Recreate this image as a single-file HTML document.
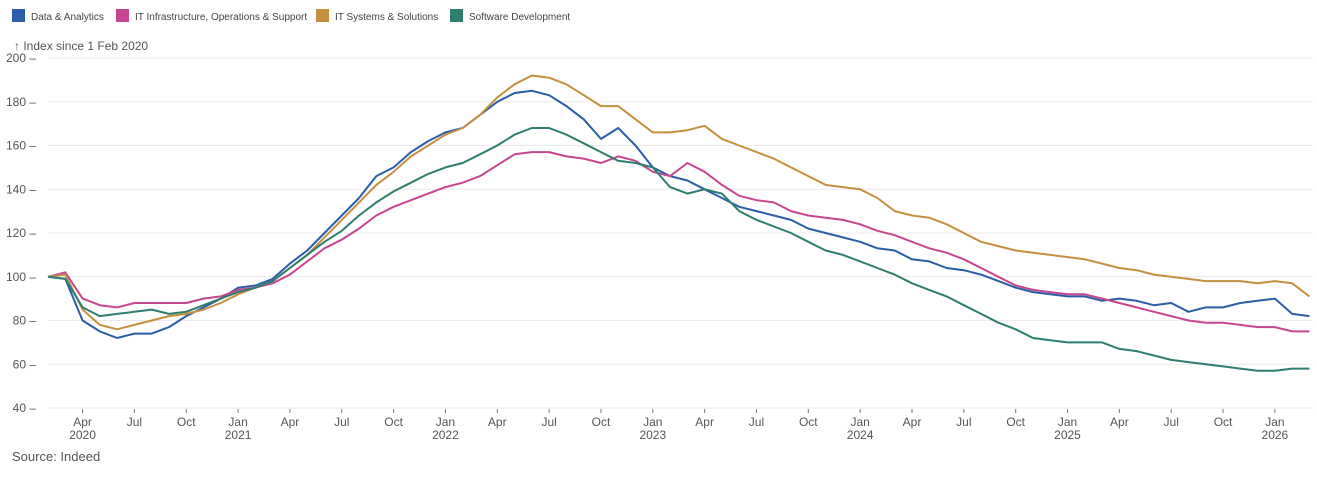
<!DOCTYPE html>
<html><head><meta charset="utf-8">
<style>
body{margin:0;background:#fff;font-family:"Liberation Sans",sans-serif;}
svg text{font-family:"Liberation Sans",sans-serif;}
</style></head>
<body>
<svg id="chart" width="1317" height="479" xmlns="http://www.w3.org/2000/svg">
<g font-size="10" fill="#444">
 <g><rect x="12" y="9" width="13" height="13" fill="#2a5ea8"/><text x="31" y="20">Data &amp; Analytics</text></g>
 <g><rect x="116" y="9" width="13" height="13" fill="#c8458f"/><text x="135" y="20">IT Infrastructure, Operations &amp; Support</text></g>
 <g><rect x="316" y="9" width="13" height="13" fill="#c49040"/><text x="335" y="20">IT Systems &amp; Solutions</text></g>
 <g><rect x="450" y="9" width="13" height="13" fill="#2e7d6e"/><text x="469" y="20">Software Development</text></g>
</g>
<text x="14" y="50" font-size="12" fill="#555">↑ Index since 1 Feb 2020</text>
<g id="grid"></g><g id="xaxis"></g><g id="series"></g>
<text x="12" y="461" font-size="13" fill="#555">Source: Indeed</text>
</svg>
<script>
const yTicks=[40,60,80,100,120,140,160,180,200];
const xTickLabels=["Apr","Jul","Oct","Jan","Apr","Jul","Oct","Jan","Apr","Jul","Oct","Jan","Apr","Jul","Oct","Jan","Apr","Jul","Oct","Jan","Apr","Jul","Oct","Jan"];
const xTickYears=["2020","","","2021","","","","2022","","","","2023","","","","2024","","","","2025","","","","2026"];
const seriesNames=["Data & Analytics","IT Infrastructure, Operations & Support","IT Systems & Solutions","Software Development"];
const dataAnalytics=[100,99,80,75,72,74,74,77,82,86,90,95,96,99,106,112,120,128,136,146,150,157,162,166,168,174,180,184,185,183,178,172,163,168,160,150,146,144,140,136,132,130,128,126,122,120,118,116,113,112,108,107,104,103,101,98,95,93,92,91,91,89,90,89,87,88,84,86,86,88,89,90,83,82];
const itInfra=[100,102,90,87,86,88,88,88,88,90,91,94,95,97,101,107,113,117,122,128,132,135,138,141,143,146,151,156,157,157,155,154,152,155,153,148,146,152,148,142,137,135,134,130,128,127,126,124,121,119,116,113,111,108,104,100,96,94,93,92,92,90,88,86,84,82,80,79,79,78,77,77,75,75];
const itSystems=[100,101,85,78,76,78,80,82,83,85,88,92,95,98,104,110,118,126,134,142,148,155,160,165,168,174,182,188,192,191,188,183,178,178,172,166,166,167,169,163,160,157,154,150,146,142,141,140,136,130,128,127,124,120,116,114,112,111,110,109,108,106,104,103,101,100,99,98,98,98,97,98,97,91];
const softwareDev=[100,99,86,82,83,84,85,83,84,87,90,93,95,98,104,110,116,121,128,134,139,143,147,150,152,156,160,165,168,168,165,161,157,153,152,150,141,138,140,138,130,126,123,120,116,112,110,107,104,101,97,94,91,87,83,79,76,72,71,70,70,70,67,66,64,62,61,60,59,58,57,57,58,58];
const colors=["#2a5ea8","#c8458f","#c49040","#2e7d6e"];
const NS="http://www.w3.org/2000/svg";
const x=i=>48+i*17.28; // month index since Feb 2020
const y=v=>58+(200-v)*2.1875;
function mk(t,a,p){const e=document.createElementNS(NS,t);for(const k in a)e.setAttribute(k,a[k]);p.appendChild(e);return e;}
const grid=document.getElementById('grid');
yTicks.forEach(v=>{
 const l=mk('line',{x1:48,x2:1313,y1:y(v),y2:y(v),stroke:'#ebebeb'},grid);
 
 
 const t=mk('text',{x:36,y:y(v)+4,'text-anchor':'end','font-size':12,fill:'#555'},grid);
 t.textContent=v+' –';
 
 
});
const xa=document.getElementById('xaxis');
xTickLabels.forEach((lab,k)=>{
 const i=2+3*k, xx=x(i);
 const tk=mk('line',{x1:xx,x2:xx,y1:409,y2:413,stroke:'#777'},xa);
 
 
 const t=mk('text',{x:xx,y:426,'text-anchor':'middle','font-size':12,fill:'#555'},xa);
 t.textContent=lab;
 
 
 if(xTickYears[k]){const t2=mk('text',{x:xx,y:439,'text-anchor':'middle','font-size':12,fill:'#555'},xa);
 t2.textContent=xTickYears[k];
 
 }
});
const sg=document.getElementById('series');
[dataAnalytics,itInfra,itSystems,softwareDev].forEach((arr,s)=>{
 const d=arr.map((v,i)=>(i?'L':'M')+x(i).toFixed(1)+','+y(v).toFixed(1)).join('');
 const p=mk('path',{d:d,fill:'none',stroke:colors[s],'stroke-width':2,'stroke-linejoin':'round'},sg);
 
 
});
</script>
</body></html>
